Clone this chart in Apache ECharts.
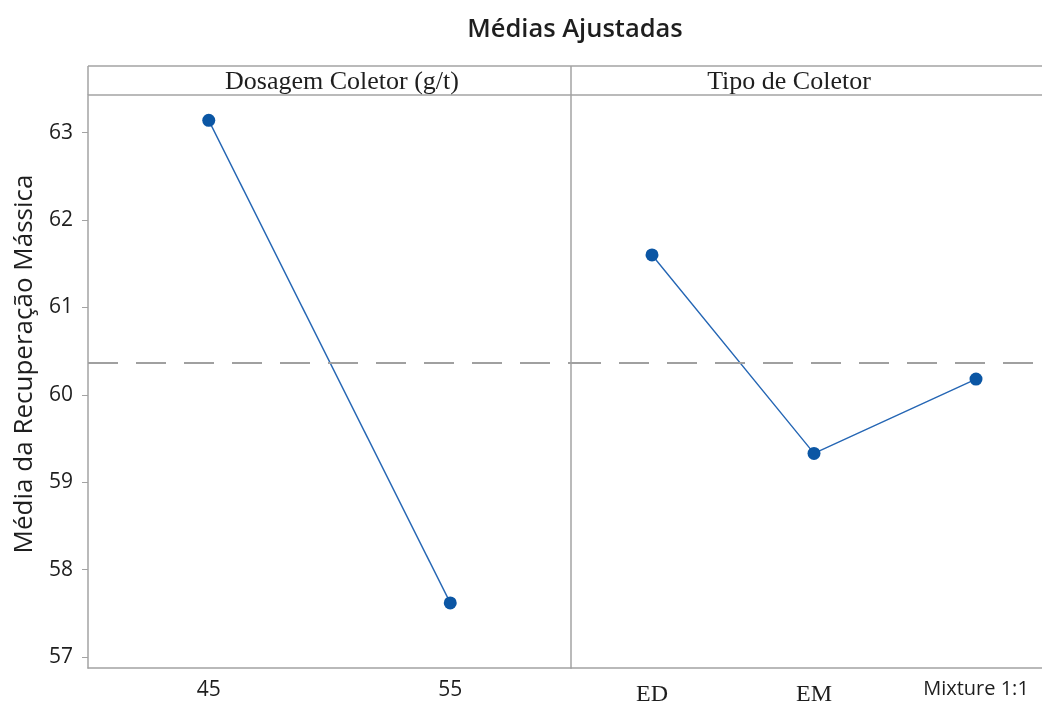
<!DOCTYPE html>
<html>
<head>
<meta charset="utf-8">
<script src="https://cdn.jsdelivr.net/npm/echarts@6/dist/echarts.min.js"></script>
<style>
  html, body { margin: 0; padding: 0; background: #fff; }
  #chart { width: 1042px; height: 701px; }
</style>
</head>
<body>
<div id="chart"></div>
<script>
// Adjusted means for two factors
const dosageLevels = ['45', '55'];
const dosageMeans = [63.14, 57.62];
const collectorTypes = ['ED', 'EM', 'Mixture 1:1'];
const collectorMeans = [61.60, 59.33, 60.18];
const grandMean = 60.37;
const yTicks = [57, 58, 59, 60, 61, 62, 63];
const panelTitles = ['Dosagem Coletor (g/t)', 'Tipo de Coletor'];
const yName = 'Média da Recuperação Mássica';

const frameColor = '#a3a3a3';
const lineColor = '#2566b4';
const markerColor = '#0b56a4';
const textColor = '#1e1e1e';

const chart = echarts.init(document.getElementById('chart'));

const refLine = {
  symbol: 'none',
  silent: true,
  label: { show: false },
  lineStyle: { color: '#a0a0a0', type: [30, 18], width: 2 },
  data: [{ yAxis: grandMean }]
};

const yBase = {
  type: 'value',
  min: 56.875,
  max: 63.43,
  splitLine: { show: false },
  axisLine: { show: true, lineStyle: { color: frameColor, width: 1.5 } }
};

chart.setOption({
  animation: false,
  title: {
    text: 'Médias Ajustadas',
    left: 570,
    textAlign: 'center',
    top: 12,
    textStyle: { fontFamily: 'Open Sans', fontSize: 25.5, fontWeight: 600, color: textColor }
  },
  grid: [
    { left: 88, top: 95, width: 483, bottom: 33, outerBoundsMode: 'none' },
    { left: 571, top: 95, width: 486, bottom: 33, outerBoundsMode: 'none' }
  ],
  xAxis: [
    {
      gridIndex: 0, type: 'category', data: dosageLevels,
      axisLine: { lineStyle: { color: frameColor, width: 1.5 } },
      axisTick: { alignWithLabel: true, length: 5, lineStyle: { color: frameColor } },
      axisLabel: { margin: 12, fontFamily: 'Open Sans', fontSize: 21, fontWeight: 500, color: textColor }
    },
    {
      gridIndex: 1, type: 'category', data: collectorTypes,
      axisLine: { lineStyle: { color: frameColor, width: 1.5 } },
      axisTick: { alignWithLabel: true, length: 5, lineStyle: { color: frameColor } },
      axisLabel: {
        margin: 11,
        color: textColor,
        formatter: v => v.indexOf(' ') >= 0 ? '{s|' + v + '}' : '{r|' + v + '}',
        rich: {
          s: { fontFamily: 'Open Sans', fontSize: 20, fontWeight: 500, color: textColor },
          r: { fontFamily: 'Liberation Serif', fontSize: 24, color: textColor, padding: [4, 0, 0, 0] }
        }
      }
    }
  ],
  yAxis: [
    Object.assign({}, yBase, {
      gridIndex: 0,
      axisTick: { show: true, length: 6, customValues: yTicks, lineStyle: { color: frameColor } },
      axisLabel: { show: true, margin: 15, customValues: yTicks, fontFamily: 'Open Sans', fontSize: 21, fontWeight: 500, color: textColor }
    }),
    Object.assign({}, yBase, {
      gridIndex: 1,
      axisTick: { show: false },
      axisLabel: { show: false }
    })
  ],
  series: [
    {
      type: 'line', xAxisIndex: 0, yAxisIndex: 0, data: dosageMeans,
      symbol: 'circle', symbolSize: 13,
      lineStyle: { color: lineColor, width: 1.4 },
      itemStyle: { color: markerColor },
      markLine: refLine
    },
    {
      type: 'line', xAxisIndex: 1, yAxisIndex: 1, data: collectorMeans,
      symbol: 'circle', symbolSize: 13,
      lineStyle: { color: lineColor, width: 1.4 },
      itemStyle: { color: markerColor },
      markLine: refLine
    }
  ],
  graphic: [
    // header strip above the panels
    { type: 'line', shape: { x1: 88, y1: 66, x2: 1042, y2: 66 }, style: { stroke: frameColor, lineWidth: 1.5 } },
    { type: 'line', shape: { x1: 88, y1: 95, x2: 1042, y2: 95 }, style: { stroke: frameColor, lineWidth: 1.5 } },
    { type: 'line', shape: { x1: 88, y1: 66, x2: 88, y2: 95 }, style: { stroke: frameColor, lineWidth: 1.5 } },
    { type: 'line', shape: { x1: 571, y1: 66, x2: 571, y2: 95 }, style: { stroke: frameColor, lineWidth: 1.5 } },
    {
      type: 'text', x: 342, y: 82,
      style: { text: panelTitles[0], fontFamily: 'Liberation Serif', fontSize: 26, fill: textColor, textAlign: 'center', textVerticalAlign: 'middle' }
    },
    {
      type: 'text', x: 789, y: 82,
      style: { text: panelTitles[1], fontFamily: 'Liberation Serif', fontSize: 26, fill: textColor, textAlign: 'center', textVerticalAlign: 'middle' }
    },
    // vertical axis name
    {
      type: 'text', x: 25, y: 364, rotation: Math.PI / 2,
      style: { text: yName, fontFamily: 'Open Sans', fontSize: 26, fill: textColor, textAlign: 'center', textVerticalAlign: 'middle' }
    }
  ]
});
</script>
</body>
</html>
